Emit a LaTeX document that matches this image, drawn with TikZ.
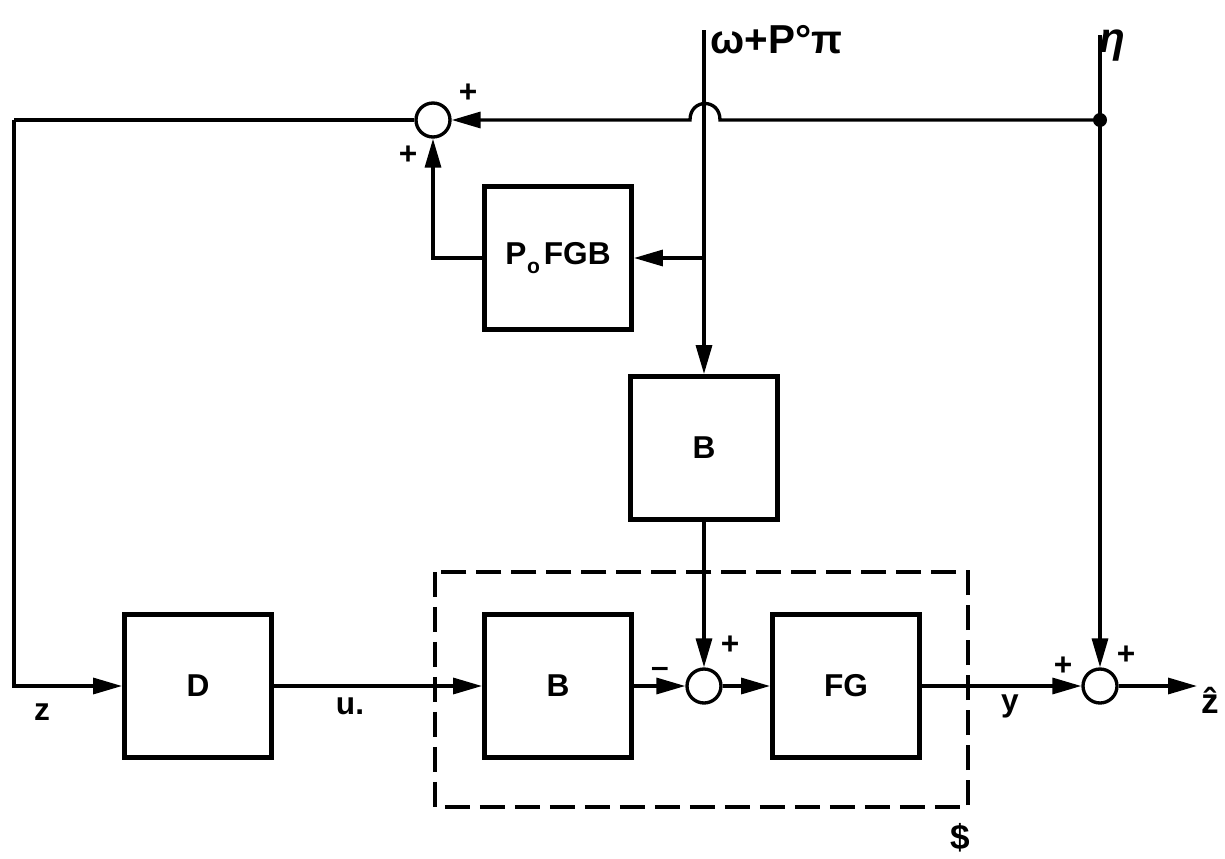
\documentclass[tikz,border=0pt]{standalone}
\usepackage{fontspec}
\setmainfont{Liberation Sans}
\usetikzlibrary{arrows.meta}
\begin{document}
\begin{tikzpicture}[x=0.02cm,y=-0.02cm,
  blockbox/.style={draw,line width=2.8pt,minimum width=2.94cm,minimum height=2.86cm,inner sep=0pt,font=\fontsize{18}{20}\selectfont\bfseries},
  sumnode/.style={draw,circle,line width=1.9pt,minimum size=0.68cm,inner sep=0pt},
  sig/.style={line width=1.9pt},
  arr/.style={sig,-{Triangle[length=0.58cm,width=0.32cm]}},
  lbl/.style={font=\fontsize{18}{20}\selectfont\bfseries,inner sep=0pt},
  sgn/.style={font=\fontsize{18}{20}\selectfont\bfseries,inner sep=0pt}]
\useasboundingbox (0,0) rectangle (1225,859);

% blocks
\node[blockbox] (P)  at (558,258) {P\kern0.02em\raisebox{-0.55ex}{\fontsize{12}{12}\selectfont o}\kern0.12em FGB};
\node[blockbox] (B1) at (704,448) {B};
\node[blockbox] (D)  at (198,686) {D};
\node[blockbox] (B2) at (558,686) {B};
\node[blockbox] (FG) at (846,686) {FG};

% summing junctions
\node[sumnode] (S1) at (433,120) {};
\node[sumnode] (S2) at (704,686) {};
\node[sumnode] (S3) at (1100,686) {};

% dashed subsystem box
\draw[line width=1.9pt,dash pattern=on 0.5cm off 0.2cm] (435,572) rectangle (968,807);
\node[lbl] (Slab) at (960,838) {\fontsize{20}{22}\selectfont\$};

% coordinates
\coordinate (wTop) at (704,30);
\coordinate (wBr)  at (704,258);
\coordinate (etaTop) at (1100,35);
\coordinate (J) at (1100,120);
\coordinate (h1) at (720,120);
\coordinate (h2) at (690,120);
\coordinate (c1) at (14,120);
\coordinate (zout) at (1197,686);

% top input
\draw[arr] (wTop) -- (B1.north);
\draw[arr] (wBr) -- (P.east);
\draw[arr] (P.west) -| (S1.south);

% eta input
\draw[arr] (etaTop) -- (S3.north);
\fill (J) circle (0.14cm);
\draw[arr] (J) -- (h1) .. controls (720,98) and (690,98) .. (h2) -- (S1.east);

% feedback to D
\draw[sig] (S1.west) -- (c1);
\draw[arr] (c1) |- (D.west);

% forward path
\draw[arr] (D.east) -- (B2.west);
\draw[arr] (B2.east) -- (S2.west);
\draw[arr] (B1.south) -- (S2.north);
\draw[arr] (S2.east) -- (FG.west);
\draw[arr] (FG.east) -- (S3.west);
\draw[arr] (S3.east) -- (zout);

% labels
\node[lbl,anchor=west] (wlab) at (710,40) {\fontsize{23}{24}\selectfont ω+P°π};
\node[lbl] (etalab) at (1112,46) {\fontsize{24}{24}\selectfont\itshape η};
\node[lbl] (zlab) at (42,712) {z};
\node[lbl] (ulab) at (350,706) {u.};
\node[lbl] (ylab) at (1010,706) {y};
\node[lbl] (zhlab) at (1210,700) {\fontsize{20}{22}\selectfont\^{z}};
\node[sgn] (p1) at (468,93) {+};
\node[sgn] (p2) at (408,155) {+};
\node[sgn] (m1) at (660,672) {\textendash};
\node[sgn] (p3) at (730,645) {+};
\node[sgn] (p4) at (1063,666) {+};
\node[sgn] (p5) at (1126,655) {+};
\end{tikzpicture}
\end{document}
